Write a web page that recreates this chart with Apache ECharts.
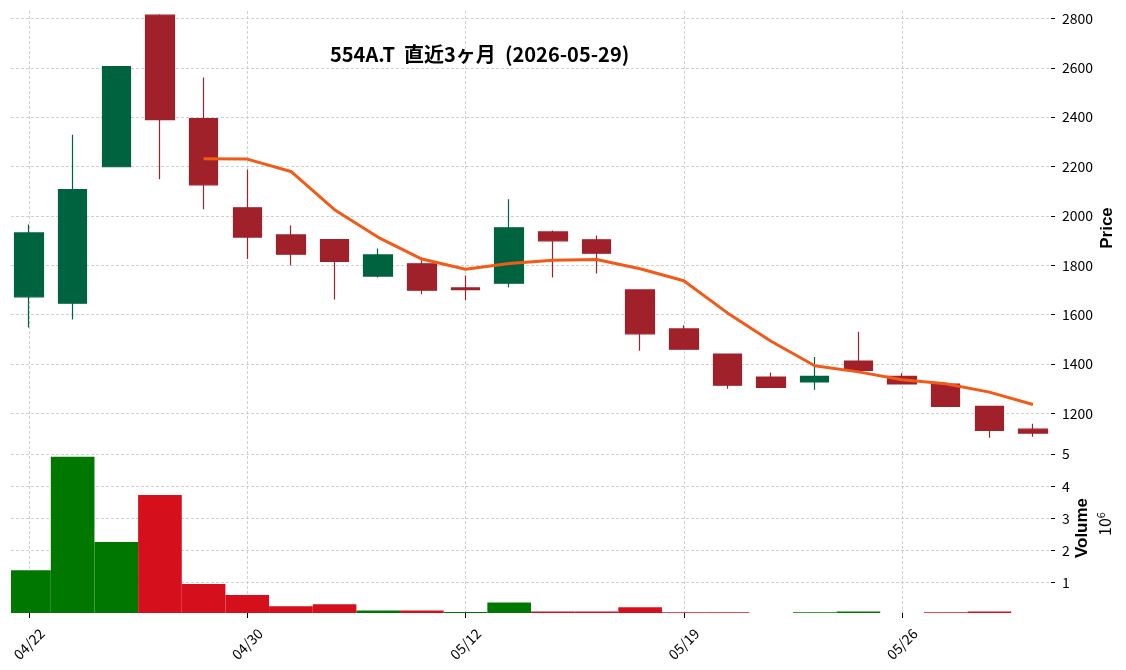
<!DOCTYPE html>
<html>
<head>
<meta charset="utf-8">
<title>554A.T</title>
<script src="https://cdn.jsdelivr.net/npm/echarts@6.0.0/dist/echarts.min.js"></script>
<style>
  html, body { margin: 0; padding: 0; background: #fff; }
  #main { width: 1126px; height: 670px; }
</style>
</head>
<body>
<div id="main"></div>
<script>
// daily data (prices in JPY, volume in millions)
const dates = ['04/22', '04/23', '04/24', '04/27', '04/28', '04/30', '05/01', '05/07', '05/08', '05/11',
  '05/12', '05/13', '05/14', '05/15', '05/18', '05/19', '05/20', '05/21', '05/22', '05/25',
  '05/26', '05/27', '05/28', '05/29'];
const opens = [1672, 1646, 2199, 2813, 2394, 2033, 1923, 1904, 1756, 1806,
  1708, 1727, 1935, 1903, 1700, 1542, 1440, 1347, 1327, 1412,
  1350, 1319, 1228, 1136];
const closes = [1931, 2106, 2605, 2390, 2126, 1914, 1845, 1816, 1842, 1699,
  1701, 1952, 1899, 1849, 1522, 1460, 1314, 1305, 1350, 1374,
  1319, 1228, 1131, 1120];
const lows = [1548, 1580, 2199, 2148, 2027, 1825, 1799, 1661, 1750, 1683,
  1658, 1711, 1750, 1767, 1454, 1460, 1300, 1303, 1296, 1372,
  1317, 1226, 1101, 1105];
const highs = [1965, 2329, 2605, 2817, 2561, 2188, 1961, 1906, 1868, 1820,
  1758, 2067, 1941, 1921, 1700, 1557, 1440, 1366, 1428, 1531,
  1362, 1320, 1228, 1158];
const ma5 = [null, null, null, null, 2231, 2230, 2180, 2025, 1913, 1825,
  1784, 1807, 1820, 1823, 1786, 1737, 1607, 1492, 1393, 1368,
  1336, 1320, 1286, 1236];
const volumes = [1.38, 4.92, 2.26, 3.73, 0.95, 0.61, 0.26, 0.32, 0.13, 0.13,
  0.08, 0.38, 0.10, 0.10, 0.23, 0.07, 0.07, 0.03, 0.07, 0.10,
  0.03, 0.07, 0.10, 0.03];

const priceTicks = [1200, 1400, 1600, 1800, 2000, 2200, 2400, 2600, 2800];
const volTicks = [1, 2, 3, 4, 5];
const dateTicks = [0, 5, 10, 15, 20];

const FONT = 'Noto Sans CJK JP';
const UP = '#006340', DOWN = '#a0212a';
const VOL_UP = '#007800', VOL_DOWN = '#d60f1c';

const chart = echarts.init(document.getElementById('main'));

const candleData = dates.map((d, i) => [i, opens[i], closes[i], lows[i], highs[i]]);
const maData = ma5.map((v, i) => [i, v]).filter(p => p[1] != null);
const volData = volumes.map((v, i) => {
  const prev = i > 0 ? closes[i - 1] : opens[i];
  return { value: [i, v], itemStyle: { color: closes[i] >= prev ? VOL_UP : VOL_DOWN } };
});

const gridLine = { show: true, lineStyle: { color: '#c4c4c4', type: [3, 2], width: 0.8 } };
const xMin = -0.412, xMax = 23.412;
const labelStyle = { fontSize: 14, color: '#000', fontFamily: FONT };
const nameStyle = { fontSize: 17, fontWeight: 'bold', fill: '#000', font: 'bold 17px "Noto Sans CJK JP"', align: 'center', verticalAlign: 'middle' };

var option = {
  animation: false,
  backgroundColor: '#fff',
  textStyle: { fontFamily: FONT },
  title: {
    text: '554A.T  直近3ヶ月  (2026-05-29)',
    left: 330,
    top: 44,
    padding: 0,
    textStyle: { fontFamily: FONT, fontSize: 20, fontWeight: 'bold', color: '#000' }
  },
  grid: [
    { left: 11, right: 75, top: 11, height: 430 },
    { left: 11, right: 75, top: 441, height: 172 }
  ],
  xAxis: [
    {
      type: 'value', gridIndex: 0, min: xMin, max: xMax,
      axisLine: { show: false, onZero: false },
      axisTick: { show: false, customValues: dateTicks },
      axisLabel: { show: false },
      splitLine: gridLine
    },
    {
      type: 'value', gridIndex: 1, min: xMin, max: xMax,
      axisLine: { show: false, onZero: false },
      axisTick: { show: true, customValues: dateTicks, length: 5, lineStyle: { color: '#000' } },
      axisLabel: Object.assign({
        customValues: dateTicks,
        formatter: v => dates[Math.round(v)],
        rotate: 45, align: 'center', verticalAlign: 'middle', margin: 31
      }, labelStyle),
      splitLine: gridLine
    }
  ],
  yAxis: [
    {
      type: 'value', gridIndex: 0, position: 'right', min: 1088, max: 2830,
      axisLine: { show: false, onZero: false },
      axisTick: { show: true, customValues: priceTicks, length: 4, lineStyle: { color: '#000' } },
      axisLabel: Object.assign({ customValues: priceTicks, margin: 11, formatter: v => String(v) }, labelStyle),
      splitLine: gridLine
    },
    {
      type: 'value', gridIndex: 1, position: 'right', min: 0.05, max: 5.41,
      axisLine: { show: false, onZero: false },
      axisTick: { show: true, customValues: volTicks, length: 4, lineStyle: { color: '#000' } },
      axisLabel: Object.assign({ customValues: volTicks, margin: 11, formatter: v => String(v) }, labelStyle),
      splitLine: gridLine
    }
  ],
  graphic: [
    // the first volume bar is cut at the panel's left edge
    { type: 'rect', shape: { x: 0, y: 440, width: 11, height: 175 }, style: { fill: '#fff' }, z: 100 },
    { type: 'text', x: 1107, y: 228, rotation: Math.PI / 2, style: Object.assign({ text: 'Price' }, nameStyle) },
    { type: 'text', x: 1082, y: 528, rotation: Math.PI / 2, style: Object.assign({ text: 'Volume' }, nameStyle) },
    {
      type: 'text', x: 1105, y: 524, rotation: Math.PI / 2,
      style: {
        text: '{b|10}{s|6}',
        align: 'center', verticalAlign: 'middle',
        rich: {
          b: { fontSize: 16, fontFamily: FONT, fill: '#000' },
          s: { fontSize: 11, fontFamily: FONT, fill: '#000', verticalAlign: 'top', padding: [0, 0, 9, 0] }
        }
      }
    }
  ],
  series: [
    {
      type: 'candlestick', xAxisIndex: 0, yAxisIndex: 0,
      data: candleData,
      encode: { x: 0, y: [1, 2, 3, 4] },
      barWidth: 29,
      clip: true,
      itemStyle: { color: UP, color0: DOWN, borderColor: UP, borderColor0: DOWN, borderWidth: 1.2 }
    },
    {
      type: 'line', xAxisIndex: 0, yAxisIndex: 0,
      data: maData,
      symbol: 'none',
      lineStyle: { color: '#f25a18', width: 3 },
      z: 5
    },
    {
      type: 'bar', xAxisIndex: 1, yAxisIndex: 1,
      data: volData,
      barWidth: 43.65,
      clip: true
    }
  ]
};

chart.setOption(option);
</script>
</body>
</html>
